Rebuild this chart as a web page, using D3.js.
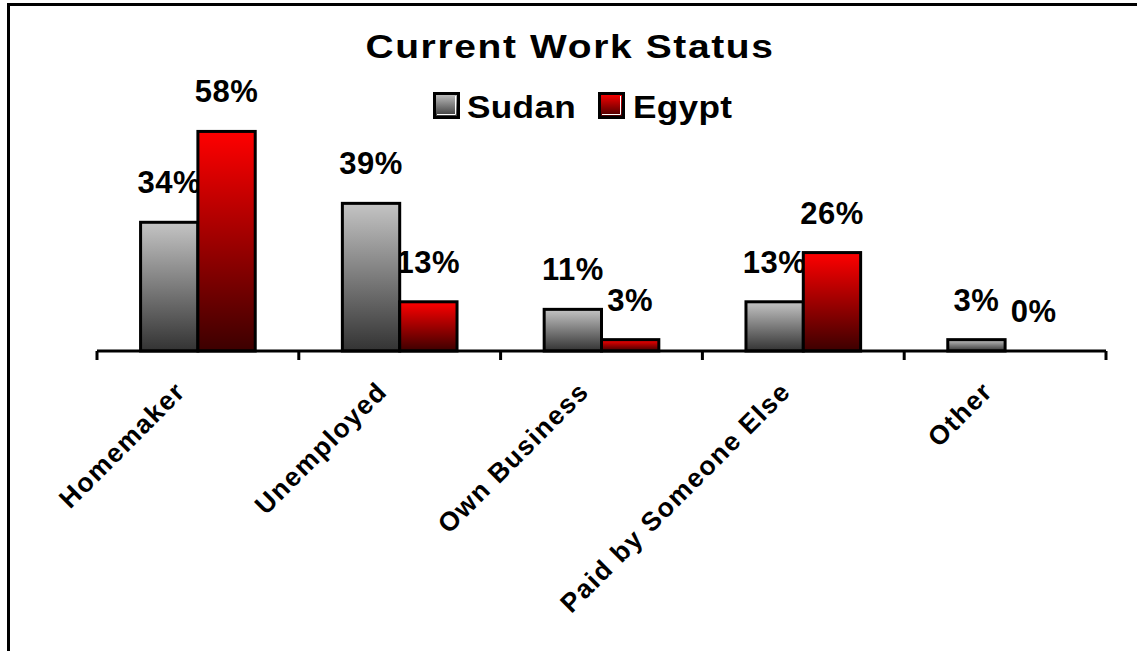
<!DOCTYPE html>
<html>
<head>
<meta charset="utf-8">
<script src="https://cdn.jsdelivr.net/npm/d3@7/dist/d3.min.js"></script>
<style>
  html, body { margin: 0; padding: 0; background: #fff; }
  svg { display: block; }
  text { font-family: "Liberation Sans", Arial, sans-serif; font-weight: bold; fill: #000; }
</style>
</head>
<body>
<svg id="chart" width="1137" height="651"></svg>
<script>
// Chart data
const categories = ["Homemaker", "Unemployed", "Own Business", "Paid by Someone Else", "Other"];
const seriesNames = ["Sudan", "Egypt"];
const sudanValues = [34, 39, 11, 13, 3];
const egyptValues = [58, 13, 3, 26, 0];
const titleText = "Current Work Status";

const W = 1137, H = 651;
const svg = d3.select("#chart");

// Gradients: light at top, dark at bottom
const defs = svg.append("defs");
const gradSpecs = {
  Sudan: ["#c4c4c4", "#333333"],
  Egypt: ["#ff0000", "#3c0000"]
};
Object.entries(gradSpecs).forEach(([name, [top, bottom]]) => {
  const g = defs.append("linearGradient")
    .attr("id", "grad-" + name)
    .attr("x1", 0).attr("y1", 0).attr("x2", 0).attr("y2", 1);
  g.append("stop").attr("offset", "0%").attr("stop-color", top);
  g.append("stop").attr("offset", "100%").attr("stop-color", bottom);
});

// Outer frame
svg.append("rect")
  .attr("x", 8.5).attr("y", 4.5)
  .attr("width", 1300).attr("height", 800)
  .attr("fill", "none").attr("stroke", "#000").attr("stroke-width", 3);

// Scales
const x0 = d3.scaleBand().domain(categories).range([97, 1106]).paddingInner(0).paddingOuter(0);
const x1 = d3.scaleBand().domain(seriesNames).range([0, x0.bandwidth()]).paddingInner(0).paddingOuter(0.76);
const y = d3.scaleLinear().domain([0, 70]).range([351, 86]);

const rows = categories.map((c, i) => ({
  category: c,
  values: [
    { series: "Sudan", value: sudanValues[i] },
    { series: "Egypt", value: egyptValues[i] }
  ]
}));

// Title (slightly widened lettering)
svg.append("text")
  .attr("transform", "translate(570,58) scale(1.18,1)")
  .attr("text-anchor", "middle")
  .style("font-size", "33px")
  .style("letter-spacing", "1.4px")
  .text(titleText);

// Legend
const legend = svg.append("g");
const legendItems = [
  { name: "Sudan", sx: 433, tx: 467 },
  { name: "Egypt", sx: 598, tx: 633 }
];
legendItems.forEach(it => {
  legend.append("rect")
    .attr("x", it.sx + 1.5).attr("y", 93.5)
    .attr("width", 24).attr("height", 24)
    .attr("fill", "url(#grad-" + it.name + ")")
    .attr("stroke", "#000").attr("stroke-width", 3);
  legend.append("path")
    .attr("d", `M${it.sx + 4},${114.5} H${it.sx + 22.5} V${96}`)
    .attr("fill", "none").attr("stroke", "#fff").attr("stroke-width", 1);
  legend.append("text")
    .attr("transform", `translate(${it.tx},118) scale(1.1,1)`)
    .style("font-size", "32px")
    .style("letter-spacing", "0.3px")
    .text(it.name);
});

const groups = svg.append("g").selectAll("g")
  .data(rows).join("g")
  .attr("transform", d => `translate(${x0(d.category)},0)`);

// Value labels (drawn beneath the bars)
groups.selectAll("text.value")
  .data(d => d.values).join("text")
  .attr("class", "value")
  .attr("x", d => x1(d.series) + x1.bandwidth() / 2)
  .attr("y", d => y(d.value) - 29)
  .attr("text-anchor", "middle")
  .style("font-size", "31px")
  .style("letter-spacing", "0.5px")
  .text(d => d.value + "%");

// Bars
groups.selectAll("rect.bar")
  .data(d => d.values.filter(v => v.value > 0)).join("rect")
  .attr("class", "bar")
  .attr("x", d => x1(d.series))
  .attr("y", d => y(d.value))
  .attr("width", x1.bandwidth())
  .attr("height", d => y(0) - y(d.value))
  .attr("fill", d => "url(#grad-" + d.series + ")")
  .attr("stroke", "#000").attr("stroke-width", 3)
  .attr("stroke-linejoin", "miter");

// Category axis: line and ticks at band boundaries
const axis = svg.append("g");
const [r0, r1] = x0.range();
axis.append("line")
  .attr("x1", r0).attr("x2", r1)
  .attr("y1", y(0)).attr("y2", y(0))
  .attr("stroke", "#000").attr("stroke-width", 3);
const bounds = categories.map(c => x0(c)).concat([r1]);
axis.selectAll("line.tick")
  .data(bounds).join("line")
  .attr("class", "tick")
  .attr("x1", d => d).attr("x2", d => d)
  .attr("y1", y(0)).attr("y2", y(0) + 9)
  .attr("stroke", "#000").attr("stroke-width", 3);

// Rotated category labels
axis.selectAll("text.cat")
  .data(categories).join("text")
  .attr("class", "cat")
  .attr("text-anchor", "end")
  .attr("transform", c => `translate(${x0(c) + x0.bandwidth() / 2 - 11},393) rotate(-45)`)
  .style("font-size", "26.5px")
  .style("letter-spacing", "1.5px")
  .text(c => c);
</script>
</body>
</html>
